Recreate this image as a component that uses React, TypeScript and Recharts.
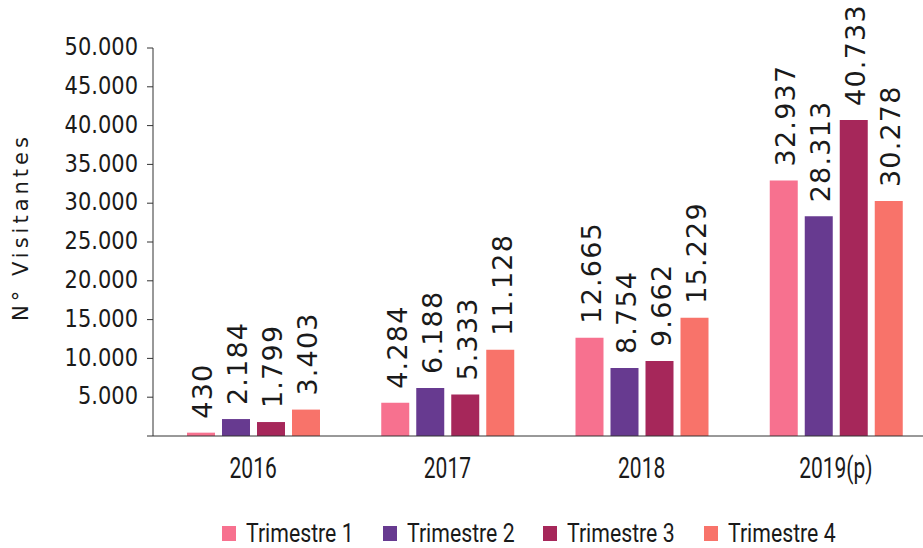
import { BarChart, Bar, XAxis, YAxis, Legend, LabelList, Label } from 'recharts';

const years = ['2016', '2017', '2018', '2019(p)'];
const trimestre1 = [430, 4284, 12665, 32937];
const trimestre2 = [2184, 6188, 8754, 28313];
const trimestre3 = [1799, 5333, 9662, 40733];
const trimestre4 = [3403, 11128, 15229, 30278];
const yTicks = [0, 5000, 10000, 15000, 20000, 25000, 30000, 35000, 40000, 45000, 50000];

const SERIES = [
  { key: 't1', name: 'Trimestre 1', color: '#F7718F' },
  { key: 't2', name: 'Trimestre 2', color: '#673A90' },
  { key: 't3', name: 'Trimestre 3', color: '#A6275A' },
  { key: 't4', name: 'Trimestre 4', color: '#F8736A' },
];

const data = years.map((year, i) => ({
  year,
  t1: trimestre1[i],
  t2: trimestre2[i],
  t3: trimestre3[i],
  t4: trimestre4[i],
}));

const WIDE_FONT = "'DejaVu Sans', sans-serif";
const NARROW_FONT = "Roboto, sans-serif";
const TEXT = '#1a1a1a';

const formatNumber = (v: number) => String(v).replace(/\B(?=(\d{3})+(?!\d))/g, '.');

const ValueLabel = (props: any) => {
  const { x, y, width, value } = props;
  const cx = Number(x) + Number(width) / 2 + 2;
  const ty = Number(y) - 14;
  return (
    <text
      x={cx}
      y={ty}
      transform={`rotate(-90, ${cx}, ${ty})`}
      textAnchor="start"
      dominantBaseline="central"
      fontFamily={WIDE_FONT}
      fontSize={27}
      letterSpacing={1.2}
      fill={TEXT}
    >
      {formatNumber(value)}
    </text>
  );
};

// condensed look of the original axis font
const XTick = (props: any) => {
  const { x, y, payload } = props;
  return (
    <g transform={`translate(${x},${y})`}>
      <text transform="scale(0.7,1)" textAnchor="middle" dy="0.71em" fontFamily={NARROW_FONT} fontSize={30} fill={TEXT}>
        {payload.value}
      </text>
    </g>
  );
};

const YTick = (props: any) => {
  const { x, y, payload } = props;
  if (payload.value === 0) return null;
  return (
    <g transform={`translate(${x},${y})`}>
      <text transform="scale(1,1.15)" textAnchor="end" dy="0.3em" fontFamily={WIDE_FONT} fontSize={21} fill={TEXT}>
        {formatNumber(payload.value)}
      </text>
    </g>
  );
};

const renderLegend = () => (
  <div style={{ display: 'flex', alignItems: 'center', height: 30, paddingLeft: 222 }}>
    {SERIES.map((s) => (
      <div key={s.key} style={{ display: 'flex', alignItems: 'center', width: 160.5, flex: 'none' }}>
        <span style={{ width: 14, height: 15, background: s.color, marginRight: 10, display: 'inline-block', flex: 'none' }} />
        <span
          style={{
            fontFamily: NARROW_FONT,
            fontSize: 25,
            lineHeight: 1,
            color: TEXT,
            display: 'inline-block',
            whiteSpace: 'nowrap',
            transform: 'scaleX(0.85)',
            transformOrigin: 'left center',
          }}
        >
          {s.name}
        </span>
      </div>
    ))}
  </div>
);

export default function App() {
  return (
    <div style={{ position: 'absolute', left: 0, top: 0, width: 923, height: 548, overflow: 'hidden', background: '#fff' }}>
      <BarChart
        width={945}
        height={548}
        data={data}
        margin={{ top: 48, right: 12, bottom: 0, left: 60 }}
        barSize={28}
        barGap={7}
      >
        <XAxis
          dataKey="year"
          height={82}
          padding={{ left: 3, right: 0 }}
          tickLine={false}
          tickSize={0}
          tickMargin={21}
          axisLine={{ stroke: '#333' }}
          tick={<XTick />}
        />
        <YAxis
          width={93}
          domain={[0, 50000]}
          ticks={yTicks}
          interval={0}
          tickSize={6}
          tickMargin={9}
          axisLine={{ stroke: '#333' }}
          tickLine={{ stroke: '#333' }}
          tick={<YTick />}
        >
          <Label
            content={() => (
              <text
                x={21}
                y={227}
                transform="rotate(-90, 21, 227)"
                textAnchor="middle"
                dominantBaseline="central"
                fontFamily={WIDE_FONT}
                fontSize={21}
                letterSpacing={4}
                fill={TEXT}
              >
                N° Visitantes
              </text>
            )}
          />
        </YAxis>
        <Legend verticalAlign="bottom" height={30} wrapperStyle={{ left: 0, width: 945 }} content={renderLegend} />
        {SERIES.map((s) => (
          <Bar key={s.key} dataKey={s.key} name={s.name} fill={s.color} isAnimationActive={false}>
            <LabelList dataKey={s.key} content={ValueLabel} />
          </Bar>
        ))}
      </BarChart>
    </div>
  );
}
